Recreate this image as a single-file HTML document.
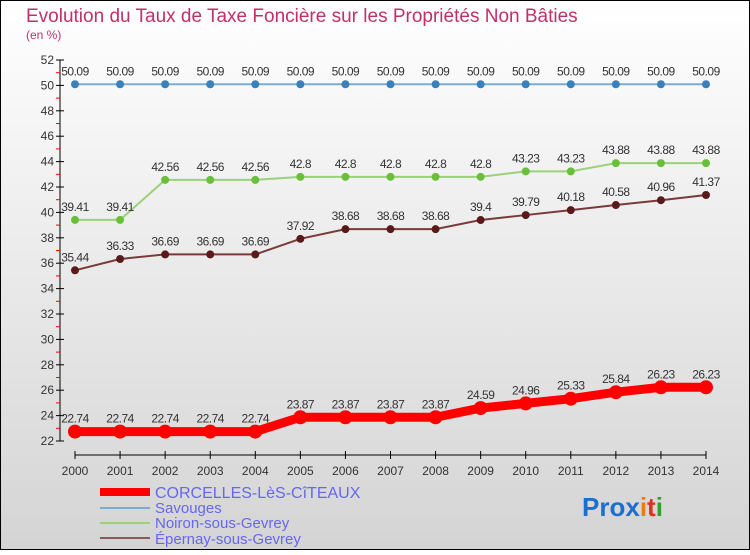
<!DOCTYPE html>
<html><head><meta charset="utf-8"><style>
body{margin:0;width:750px;height:550px;overflow:hidden;font-family:"Liberation Sans",sans-serif}
</style></head><body>
<svg id="c" width="750" height="550" xmlns="http://www.w3.org/2000/svg">
<defs><linearGradient id="bg" x1="0" y1="0" x2="0" y2="1"><stop offset="0" stop-color="#ffffff"/><stop offset="1" stop-color="#d4d4d4"/></linearGradient></defs>
<rect x="0.5" y="0.5" width="749" height="549" fill="url(#bg)" stroke="#000"/>
<text x="26" y="22" font-size="19" fill="#c0306a">Evolution du Taux de Taxe Foncière sur les Propriétés Non Bâties</text>
<text x="26" y="39" font-size="12" fill="#c0306a">(en %)</text>
<g id="axes"></g><g id="series"></g>
<g>
<line x1="100" y1="492" x2="150" y2="492" stroke="#f00" stroke-width="8"/>
<text x="155" y="498" font-size="16" fill="#6666ee">CORCELLES-LèS-CîTEAUX</text>
<line x1="100" y1="508" x2="150" y2="508" stroke="#7aadcf" stroke-width="2"/>
<text x="155" y="513" font-size="15" fill="#6666ee">Savouges</text>
<line x1="100" y1="523" x2="150" y2="523" stroke="#9ad27a" stroke-width="2"/>
<text x="155" y="528" font-size="15" fill="#6666ee">Noiron-sous-Gevrey</text>
<line x1="100" y1="538" x2="150" y2="538" stroke="#8a5a5a" stroke-width="2"/>
<text x="155" y="544" font-size="15" fill="#6666ee">Épernay-sous-Gevrey</text>
</g>
<text x="582" y="516" font-size="26" font-weight="bold"><tspan fill="#1a6fd0">Pro</tspan><tspan fill="#1a6fd0">x</tspan><tspan fill="#f07a10">i</tspan><tspan fill="#e03020">t</tspan><tspan fill="#30a030">i</tspan></text>
</svg>
<script>
const years=[2000,2001,2002,2003,2004,2005,2006,2007,2008,2009,2010,2011,2012,2013,2014];
const yTicks=[22,24,26,28,30,32,34,36,38,40,42,44,46,48,50,52];
const corcelles=[22.74,22.74,22.74,22.74,22.74,23.87,23.87,23.87,23.87,24.59,24.96,25.33,25.84,26.23,26.23];
const savouges=[50.09,50.09,50.09,50.09,50.09,50.09,50.09,50.09,50.09,50.09,50.09,50.09,50.09,50.09,50.09];
const noiron=[39.41,39.41,42.56,42.56,42.56,42.8,42.8,42.8,42.8,42.8,43.23,43.23,43.88,43.88,43.88];
const epernay=[35.44,36.33,36.69,36.69,36.69,37.92,38.68,38.68,38.68,39.4,39.79,40.18,40.58,40.96,41.37];
const NS="http://www.w3.org/2000/svg";
const xS=i=>75+i*(706-75)/(years.length-1);
const yS=v=>441-(v-22)*(441-60)/30;
function mk(t,a,p){const e=document.createElementNS(NS,t);for(const k in a)e.setAttribute(k,a[k]);p.appendChild(e);return e;}
const ax=document.getElementById('axes');
let l=mk('line',{x1:60,y1:60,x2:60,y2:441,stroke:'#000'},ax);


l=mk('line',{x1:75,y1:455,x2:706,y2:455,stroke:'#000'},ax);


yTicks.forEach((t,i)=>{const y=yS(t);mk('line',{x1:56,y1:y,x2:64,y2:y,stroke:'#000'},ax);
if(i<yTicks.length-1)mk('line',{x1:56,y1:yS(t+1),x2:60,y2:yS(t+1),stroke:'#f00'},ax);
const tx=mk('text',{x:54,y:y+4,'font-size':12,'text-anchor':'end',fill:'#333'},ax);tx.textContent=t;

});
years.forEach((yr,i)=>{const x=xS(i);mk('line',{x1:x,y1:451,x2:x,y2:459,stroke:'#000'},ax);
const tx=mk('text',{x:x,y:475,'font-size':12,'text-anchor':'middle',fill:'#333'},ax);tx.textContent=yr;

});
const sg=document.getElementById('series');
function series(d,name,col,w,r,dot){const g=mk('g',{},sg);


mk('polyline',{points:d.map((v,i)=>xS(i)+','+yS(v)).join(' '),fill:'none',stroke:col,'stroke-width':w},g);
d.forEach((v,i)=>{const c=mk('circle',{cx:xS(i),cy:yS(v),r:r,fill:dot},g);


const t=mk('text',{x:xS(i),y:yS(v)-9,'font-size':12,'text-anchor':'middle',fill:'#333','letter-spacing':'-0.5'},g);t.textContent=v;

});}
series(savouges,'savouges','#7aadcf',2,4,'#3a80bb');
series(noiron,'noiron','#9ad27a',2,4,'#6abf3a');
series(epernay,'epernay','#7a3a3a',2,4,'#5a1a1a');
series(corcelles,'corcelles','#f00',9,7,'#f00');
</script>
</body></html>
